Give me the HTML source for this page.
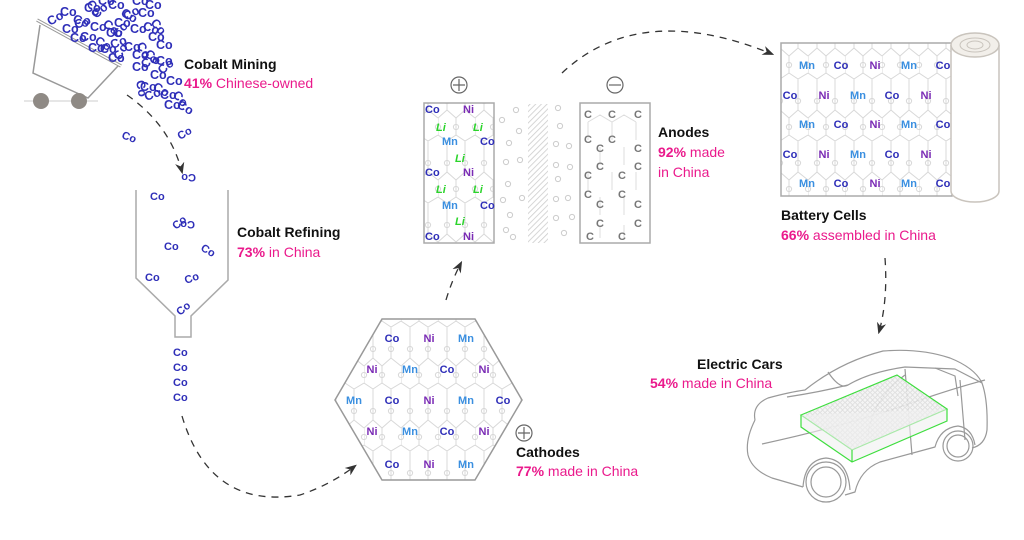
<!DOCTYPE html>
<html><head><meta charset="utf-8"><style>
html,body{margin:0;padding:0;background:#fff;}
svg{display:block;font-family:"Liberation Sans",Arial,sans-serif;}
.co{fill:#2e2eb8;font-weight:bold;font-size:11px;}
.pile text{font-size:12.5px;}
.ni{fill:#7a2bb5;font-weight:bold;font-size:11px;}
.mn{fill:#3a8fe0;font-weight:bold;font-size:11px;}
.li{fill:#2bd42b;font-weight:bold;font-style:italic;font-size:11px;}
.c{fill:#777;font-weight:bold;font-size:11px;}
.h{font-weight:bold;font-size:14px;fill:#111;}
.p{font-size:14px;fill:#ea1a8c;}
.dash{fill:none;stroke:#333;stroke-width:1.3;stroke-dasharray:7 6;}
</style></head><body>
<svg width="1024" height="540" viewBox="0 0 1024 540" xmlns="http://www.w3.org/2000/svg">
<defs>
<pattern id="lat" width="37" height="62" patternUnits="userSpaceOnUse" x="-6" y="327">
<g stroke="#d8d8d8" stroke-width="1" fill="none">
<path d="M9 14 V31 M27 14 V31 M0 39 L9 31 M18 39 L9 31 M18 39 L27 31 L37 39 M18 39 V56 M0 39 V56 M0 56 L9 62 M18 56 L9 62 M18 56 L27 62 M37 56 L27 62 M9 0 V14 M27 0 V14"/>
<circle cx="9" cy="22" r="2.6"/><circle cx="27" cy="22" r="2.6"/><circle cx="18" cy="48" r="2.6"/><circle cx="0" cy="48" r="2.6"/><circle cx="37" cy="48" r="2.6"/>
</g></pattern>
<pattern id="hatch" width="4" height="4" patternUnits="userSpaceOnUse" patternTransform="rotate(45)">
<rect width="4" height="4" fill="#fff"/><line x1="0" y1="0" x2="0" y2="4" stroke="#ccc" stroke-width="1.6"/></pattern>
<pattern id="cells" width="5" height="5" patternUnits="userSpaceOnUse">
<rect width="5" height="5" fill="#f4f4f4"/><circle cx="2.5" cy="2.5" r="1.8" fill="none" stroke="#ccc" stroke-width="0.6"/></pattern>
<marker id="ar" viewBox="0 0 10 10" refX="8" refY="5" markerWidth="9" markerHeight="9" orient="auto"><path d="M0 1 L10 5 L0 9 L3 5 Z" fill="#333"/></marker>
</defs>

<!-- cart -->
<line x1="24" y1="101" x2="98" y2="101" stroke="#ccc" stroke-width="1"/>
<path d="M40 25 L33 73 L88 98 L118 66" fill="none" stroke="#999" stroke-width="1.5"/>
<line x1="37" y1="20" x2="121" y2="66" stroke="#999" stroke-width="3.5"/>
<line x1="37" y1="20" x2="121" y2="66" stroke="#fff" stroke-width="1.5"/>
<circle cx="41" cy="101" r="8" fill="#8f8a85"/><circle cx="79" cy="101" r="8" fill="#8f8a85"/>

<g class="co pile">
<text x="50" y="26" transform="rotate(-30 50 26)">Co</text><text x="60" y="16">Co</text><text x="72" y="22" transform="rotate(20 72 22)">Co</text><text x="84" y="12">Co</text><text x="96" y="19" transform="rotate(-40 96 19)">Co</text><text x="108" y="9">Co</text><text x="120" y="15" transform="rotate(30 120 15)">Co</text><text x="132" y="5">Co</text><text x="98" y="5">Co</text><text x="86" y="3" transform="rotate(60 86 3)">Co</text><text x="110" y="0">Co</text>
<text x="62" y="33">Co</text><text x="76" y="29" transform="rotate(-20 76 29)">Co</text><text x="90" y="31">Co</text><text x="102" y="25" transform="rotate(40 102 25)">Co</text><text x="114" y="27">Co</text><text x="126" y="21" transform="rotate(-30 126 21)">Co</text><text x="138" y="17">Co</text><text x="150" y="23" transform="rotate(50 150 23)">Co</text><text x="145" y="9">Co</text>
<text x="70" y="42">Co</text><text x="80" y="41">Co</text><text x="94" y="43" transform="rotate(30 94 43)">Co</text><text x="106" y="37">Co</text><text x="118" y="39" transform="rotate(-50 118 39)">Co</text><text x="130" y="33">Co</text><text x="142" y="29" transform="rotate(20 142 29)">Co</text>
<text x="88" y="52">Co</text><text x="100" y="53">Co</text><text x="112" y="49" transform="rotate(-20 112 49)">Co</text><text x="124" y="51">Co</text><text x="136" y="45" transform="rotate(60 136 45)">Co</text><text x="148" y="41">Co</text>
<text x="108" y="62">Co</text><text x="120" y="61" transform="rotate(-60 120 61)">Co</text><text x="132" y="59">Co</text><text x="144" y="55" transform="rotate(40 144 55)">Co</text><text x="156" y="49">Co</text>
<text x="132" y="71">Co</text><text x="144" y="69" transform="rotate(-30 144 69)">Co</text><text x="156" y="65">Co</text>
<text x="136" y="81" transform="rotate(80 136 81)">Co</text><text x="150" y="79">Co</text><text x="162" y="75" transform="rotate(-40 162 75)">Co</text>
<text x="140" y="91">Co</text><text x="152" y="89" transform="rotate(30 152 89)">Co</text><text x="166" y="85">Co</text>
<text x="146" y="101" transform="rotate(-20 146 101)">Co</text><text x="160" y="99">Co</text><text x="172" y="95" transform="rotate(50 172 95)">Co</text>
<text x="164" y="109">Co</text><text x="176" y="107" transform="rotate(30 176 107)">Co</text>
</g>
<g class="co">
<text x="121" y="138" transform="rotate(20 121 138)">Co</text><text x="180" y="140" transform="rotate(-30 180 140)">Co</text><text x="208" y="170" transform="rotate(180 202 172)">Co</text>
<text x="150" y="200">Co</text><text x="176" y="230" transform="rotate(-40 176 230)">Co</text><text x="205" y="215" transform="rotate(180 200 218)">Co</text><text x="164" y="250">Co</text><text x="200" y="250" transform="rotate(30 200 250)">Co</text><text x="145" y="281">Co</text><text x="186" y="284" transform="rotate(-20 186 284)">Co</text><text x="180" y="316" transform="rotate(-40 180 316)">Co</text>
<text x="173" y="356">Co</text><text x="173" y="371">Co</text><text x="173" y="386">Co</text><text x="173" y="401">Co</text>
</g>
<text x="184" y="69" class="h">Cobalt Mining</text>
<text x="184" y="88" class="p"><tspan font-weight="bold">41%</tspan> Chinese-owned</text>

<path class="dash" d="M127 95 Q170 125 182 172" marker-end="url(#ar)"/>

<!-- hopper -->
<path d="M136 190 V278 L175 316 V337 H191 V316 L228 280 V190" fill="none" stroke="#aaa" stroke-width="1.5"/>
<text x="237" y="237" class="h">Cobalt Refining</text>
<text x="237" y="257" class="p"><tspan font-weight="bold">73%</tspan> in China</text>

<path class="dash" d="M182 416 Q210 510 300 495 Q330 485 355 466" marker-end="url(#ar)"/>

<!-- hexagon cathode -->
<polygon points="382,319 475,319 522,400 475,480 382,480 335,400" fill="url(#lat)" stroke="#999" stroke-width="1.5"/>
<g text-anchor="middle">
<text x="392" y="342" class="co">Co</text><text x="429" y="342" class="ni">Ni</text><text x="466" y="342" class="mn">Mn</text>
<text x="372" y="373" class="ni">Ni</text><text x="410" y="373" class="mn">Mn</text><text x="447" y="373" class="co">Co</text><text x="484" y="373" class="ni">Ni</text>
<text x="354" y="404" class="mn">Mn</text><text x="392" y="404" class="co">Co</text><text x="429" y="404" class="ni">Ni</text><text x="466" y="404" class="mn">Mn</text><text x="503" y="404" class="co">Co</text>
<text x="372" y="435" class="ni">Ni</text><text x="410" y="435" class="mn">Mn</text><text x="447" y="435" class="co">Co</text><text x="484" y="435" class="ni">Ni</text>
<text x="392" y="468" class="co">Co</text><text x="429" y="468" class="ni">Ni</text><text x="466" y="468" class="mn">Mn</text>
</g>
<circle cx="524" cy="433" r="8" fill="none" stroke="#666" stroke-width="1.2"/><path d="M518 433 H530 M524 427 V439" stroke="#666" stroke-width="1.2"/>
<text x="516" y="457" class="h">Cathodes</text>
<text x="516" y="476" class="p"><tspan font-weight="bold">77%</tspan> made in China</text>

<path class="dash" d="M446 300 Q452 280 461 263" marker-end="url(#ar)"/>

<!-- cell -->
<circle cx="459" cy="85" r="8" fill="none" stroke="#666" stroke-width="1.2"/><path d="M453 85 H465 M459 79 V91" stroke="#666" stroke-width="1.2"/>
<circle cx="615" cy="85" r="8" fill="none" stroke="#666" stroke-width="1.2"/><path d="M609 85 H621" stroke="#666" stroke-width="1.2"/>
<rect x="424" y="103" width="70" height="140" fill="url(#lat)" stroke="#aaa" stroke-width="1.5"/>
<g>
<text x="425" y="113" class="co">Co</text><text x="463" y="113" class="ni">Ni</text>
<text x="436" y="131" class="li">Li</text><text x="473" y="131" class="li">Li</text>
<text x="442" y="145" class="mn">Mn</text><text x="480" y="145" class="co">Co</text>
<text x="455" y="162" class="li">Li</text>
<text x="425" y="176" class="co">Co</text><text x="463" y="176" class="ni">Ni</text>
<text x="436" y="193" class="li">Li</text><text x="473" y="193" class="li">Li</text>
<text x="442" y="209" class="mn">Mn</text><text x="480" y="209" class="co">Co</text>
<text x="455" y="225" class="li">Li</text>
<text x="425" y="240" class="co">Co</text><text x="463" y="240" class="ni">Ni</text>
</g>
<rect x="528" y="104" width="20" height="139" fill="url(#hatch)"/>
<g fill="none" stroke="#ccc" stroke-width="1">
<circle cx="516" cy="110" r="2.6"/><circle cx="502" cy="120" r="2.6"/><circle cx="519" cy="131" r="2.6"/><circle cx="509" cy="143" r="2.6"/><circle cx="506" cy="162" r="2.6"/><circle cx="520" cy="160" r="2.6"/><circle cx="508" cy="184" r="2.6"/><circle cx="503" cy="200" r="2.6"/><circle cx="522" cy="198" r="2.6"/><circle cx="510" cy="215" r="2.6"/><circle cx="506" cy="230" r="2.6"/><circle cx="513" cy="237" r="2.6"/>
<circle cx="558" cy="108" r="2.6"/><circle cx="560" cy="126" r="2.6"/><circle cx="556" cy="144" r="2.6"/><circle cx="569" cy="146" r="2.6"/><circle cx="556" cy="165" r="2.6"/><circle cx="570" cy="167" r="2.6"/><circle cx="558" cy="179" r="2.6"/><circle cx="556" cy="199" r="2.6"/><circle cx="568" cy="198" r="2.6"/><circle cx="556" cy="218" r="2.6"/><circle cx="572" cy="217" r="2.6"/><circle cx="564" cy="233" r="2.6"/>
</g>
<rect x="580" y="103" width="70" height="140" fill="#fff" stroke="#aaa" stroke-width="1.5"/>
<path d="M588 122 L600 115 L612 122 L624 115 L636 122 M588 122 V140 M612 122 V140 M636 122 V140 M600 147 V165 M624 147 V165 M612 172 V190 M588 172 V190 M636 172 V190 M600 197 V215 M624 197 V215 M600 225 V238 M624 225 V238" fill="none" stroke="#ddd"/>
<g class="c" text-anchor="middle">
<text x="588" y="118">C</text><text x="612" y="118">C</text><text x="638" y="118">C</text>
<text x="588" y="143">C</text><text x="612" y="143">C</text>
<text x="600" y="152">C</text><text x="638" y="152">C</text>
<text x="600" y="170">C</text><text x="638" y="170">C</text>
<text x="588" y="179">C</text><text x="622" y="179">C</text>
<text x="588" y="198">C</text><text x="622" y="198">C</text>
<text x="600" y="208">C</text><text x="638" y="208">C</text>
<text x="600" y="227">C</text><text x="638" y="227">C</text>
<text x="590" y="240">C</text><text x="622" y="240">C</text>
</g>
<text x="658" y="137" class="h">Anodes</text>
<text x="658" y="157" class="p"><tspan font-weight="bold">92%</tspan> made</text>
<text x="658" y="177" class="p">in China</text>

<path class="dash" d="M562 73 Q640 0 772 54" marker-end="url(#ar)"/>

<!-- battery cells -->
<rect x="781" y="43" width="171" height="153" fill="url(#lat)" stroke="#aaa" stroke-width="1.5"/>
<g text-anchor="middle">
<text x="807" y="69" class="mn">Mn</text><text x="841" y="69" class="co">Co</text><text x="875" y="69" class="ni">Ni</text><text x="909" y="69" class="mn">Mn</text><text x="943" y="69" class="co">Co</text>
<text x="790" y="99" class="co">Co</text><text x="824" y="99" class="ni">Ni</text><text x="858" y="99" class="mn">Mn</text><text x="892" y="99" class="co">Co</text><text x="926" y="99" class="ni">Ni</text>
<text x="807" y="128" class="mn">Mn</text><text x="841" y="128" class="co">Co</text><text x="875" y="128" class="ni">Ni</text><text x="909" y="128" class="mn">Mn</text><text x="943" y="128" class="co">Co</text>
<text x="790" y="158" class="co">Co</text><text x="824" y="158" class="ni">Ni</text><text x="858" y="158" class="mn">Mn</text><text x="892" y="158" class="co">Co</text><text x="926" y="158" class="ni">Ni</text>
<text x="807" y="187" class="mn">Mn</text><text x="841" y="187" class="co">Co</text><text x="875" y="187" class="ni">Ni</text><text x="909" y="187" class="mn">Mn</text><text x="943" y="187" class="co">Co</text>
</g>
<path d="M951 45 V191 A24 11 0 0 0 999 191 V45" fill="#fff" stroke="#c9c4bd" stroke-width="1.5"/>
<ellipse cx="975" cy="45" rx="24" ry="12" fill="#f2efea" stroke="#c9c4bd" stroke-width="1.5"/>
<ellipse cx="975" cy="45" rx="15" ry="7" fill="none" stroke="#c9c4bd"/>
<ellipse cx="975" cy="45" rx="8" ry="4" fill="none" stroke="#c9c4bd"/>
<text x="781" y="220" class="h">Battery Cells</text>
<text x="781" y="240" class="p"><tspan font-weight="bold">66%</tspan> assembled in China</text>

<path class="dash" d="M885 258 Q888 300 879 332" marker-end="url(#ar)"/>

<!-- car -->
<text x="697" y="369" class="h">Electric Cars</text>
<text x="650" y="388" class="p"><tspan font-weight="bold">54%</tspan> made in China</text>
<g fill="none" stroke="#999" stroke-width="1.2" stroke-linejoin="round">
<!-- outer body -->
<path d="M755 420 Q752 405 768 398 Q790 392 805 390 Q840 362 883 351 Q920 348 950 358 Q975 368 982 383 Q988 400 987 430 Q985 445 972 448"/>
<path d="M755 420 Q745 440 748 455 Q752 470 772 478 L803 487"/>
<path d="M845 495 L855 492 Q860 470 880 462 L935 447 Q940 428 958 426 Q972 428 975 445"/>
<!-- wheels -->
<path d="M803 487 Q805 460 826 458 Q848 460 850 490"/>
<circle cx="826" cy="482" r="20"/><circle cx="826" cy="482" r="15"/>
<circle cx="958" cy="446" r="15"/><circle cx="958" cy="446" r="11"/>
<!-- windows/lines -->
<path d="M787 397 Q820 392 848 385 Q870 372 905 367 L955 369 L982 383"/>
<path d="M828 372 Q840 390 848 385"/>
<path d="M935 368 Q945 372 955 376 L958 396"/>
<path d="M762 444 Q850 425 920 400 Q955 388 985 380"/>
<path d="M868 435 Q872 400 905 375"/>
<path d="M905 369 L912 455"/>
<path d="M960 380 L965 440"/>
</g>
<g stroke="#3ede3e" stroke-width="1.2">
<polygon points="801,415 897,375 947,409 852,450" fill="url(#cells)" fill-opacity="0.9"/>
<path d="M801 415 V427 L852 462 L947 421 V409 M852 450 V462" fill="#f0f0f0" fill-opacity="0.6"/>
</g>
</svg>
</body></html>
